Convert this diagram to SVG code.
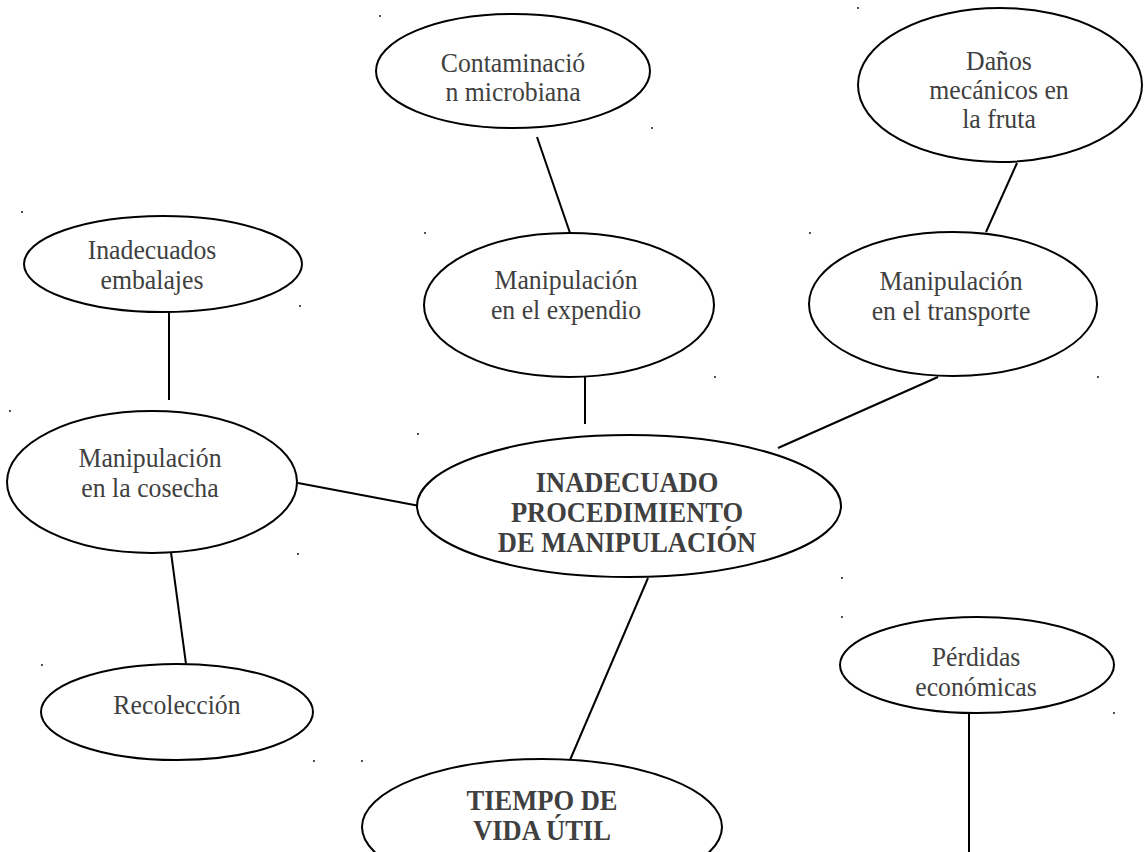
<svg xmlns="http://www.w3.org/2000/svg" width="1144" height="852" viewBox="0 0 1144 852">
  <style>
    .node ellipse { fill: #ffffff; stroke: #000000; stroke-width: 2; }
    .node text { font-family: "Liberation Serif", "Times New Roman", serif; font-size: 28px; fill: #404040; text-anchor: middle; }
    .node text.strong { font-weight: bold; font-size: 28.5px; }
    .links line { stroke: #000000; stroke-width: 2; }
    .specks circle { fill: #000000; }
  </style>
  <rect width="1144" height="852" fill="#ffffff"/>

  <!-- stray specks on the page -->
  <g class="specks">
    <circle cx="380" cy="16" r="0.9"/>
    <circle cx="652" cy="128" r="0.9"/>
    <circle cx="858" cy="8" r="0.9"/>
    <circle cx="22" cy="212" r="0.9"/>
    <circle cx="300" cy="306" r="0.9"/>
    <circle cx="425" cy="233" r="0.9"/>
    <circle cx="810" cy="233" r="0.9"/>
    <circle cx="10" cy="411" r="0.9"/>
    <circle cx="418" cy="434" r="0.9"/>
    <circle cx="715" cy="377" r="0.9"/>
    <circle cx="1098" cy="377" r="0.9"/>
    <circle cx="298" cy="554" r="0.9"/>
    <circle cx="842" cy="578" r="0.9"/>
    <circle cx="842" cy="617" r="0.9"/>
    <circle cx="1114" cy="713" r="0.9"/>
    <circle cx="42" cy="665" r="0.9"/>
    <circle cx="314" cy="761" r="0.9"/>
    <circle cx="362" cy="761" r="0.9"/>
  </g>

  <!-- connectors -->
  <g id="connectors" class="links">
    <line x1="537" y1="137" x2="570" y2="233"/>
    <line x1="1017" y1="163" x2="986" y2="232"/>
    <line x1="169" y1="312" x2="169" y2="400"/>
    <line x1="585" y1="377" x2="585" y2="424"/>
    <line x1="938" y1="377" x2="778" y2="448"/>
    <line x1="298" y1="483" x2="425" y2="507"/>
    <line x1="170" y1="545" x2="186" y2="664"/>
    <line x1="648" y1="578" x2="570" y2="760"/>
    <line x1="969" y1="713" x2="969" y2="852"/>
  </g>

  <!-- labels are set slightly condensed: translate to the label centre, then narrow -->
  <g id="contaminacion" class="node">
    <ellipse cx="513" cy="71" rx="137" ry="57"/>
    <g transform="translate(513 0) scale(0.92 1)">
      <text x="0" y="72">Contaminació</text>
      <text x="0" y="101">n microbiana</text>
    </g>
  </g>

  <g id="danos" class="node">
    <ellipse cx="1000" cy="85" rx="142" ry="77"/>
    <g transform="translate(999 0) scale(0.92 1)">
      <text x="0" y="70">Daños</text>
      <text x="0" y="99">mecánicos en</text>
      <text x="0" y="128">la fruta</text>
    </g>
  </g>

  <g id="embalajes" class="node">
    <ellipse cx="163" cy="264" rx="139" ry="48"/>
    <g transform="translate(152 0) scale(0.92 1)">
      <text x="0" y="259">Inadecuados</text>
      <text x="0" y="289">embalajes</text>
    </g>
  </g>

  <g id="expendio" class="node">
    <ellipse cx="569" cy="305" rx="145" ry="72"/>
    <g transform="translate(566 0) scale(0.92 1)">
      <text x="0" y="289">Manipulación</text>
      <text x="0" y="319">en el expendio</text>
    </g>
  </g>

  <g id="transporte" class="node">
    <ellipse cx="953" cy="304" rx="144" ry="72"/>
    <g transform="translate(951 0) scale(0.92 1)">
      <text x="0" y="290">Manipulación</text>
      <text x="0" y="320">en el transporte</text>
    </g>
  </g>

  <g id="cosecha" class="node">
    <ellipse cx="152" cy="482" rx="145" ry="71"/>
    <g transform="translate(150 0) scale(0.92 1)">
      <text x="0" y="467">Manipulación</text>
      <text x="0" y="497">en la cosecha</text>
    </g>
  </g>

  <g id="procedimiento" class="node">
    <ellipse cx="629" cy="506" rx="212" ry="71"/>
    <g transform="translate(627 0) scale(0.93 1)">
      <text class="strong" x="0" y="492">INADECUADO</text>
      <text class="strong" x="0" y="522">PROCEDIMIENTO</text>
      <text class="strong" x="0" y="552">DE MANIPULACIÓN</text>
    </g>
  </g>

  <g id="recoleccion" class="node">
    <ellipse cx="177" cy="712" rx="136" ry="48"/>
    <g transform="translate(177 0) scale(0.92 1)">
      <text x="0" y="714">Recolección</text>
    </g>
  </g>

  <g id="perdidas" class="node">
    <ellipse cx="977" cy="665" rx="137" ry="48"/>
    <g transform="translate(976 0) scale(0.92 1)">
      <text x="0" y="666">Pérdidas</text>
      <text x="0" y="696">económicas</text>
    </g>
  </g>

  <g id="vida-util" class="node">
    <ellipse cx="542" cy="827" rx="180" ry="68"/>
    <g transform="translate(542 0) scale(0.93 1)">
      <text class="strong" x="0" y="810">TIEMPO DE</text>
      <text class="strong" x="0" y="840">VIDA ÚTIL</text>
    </g>
  </g>
</svg>
